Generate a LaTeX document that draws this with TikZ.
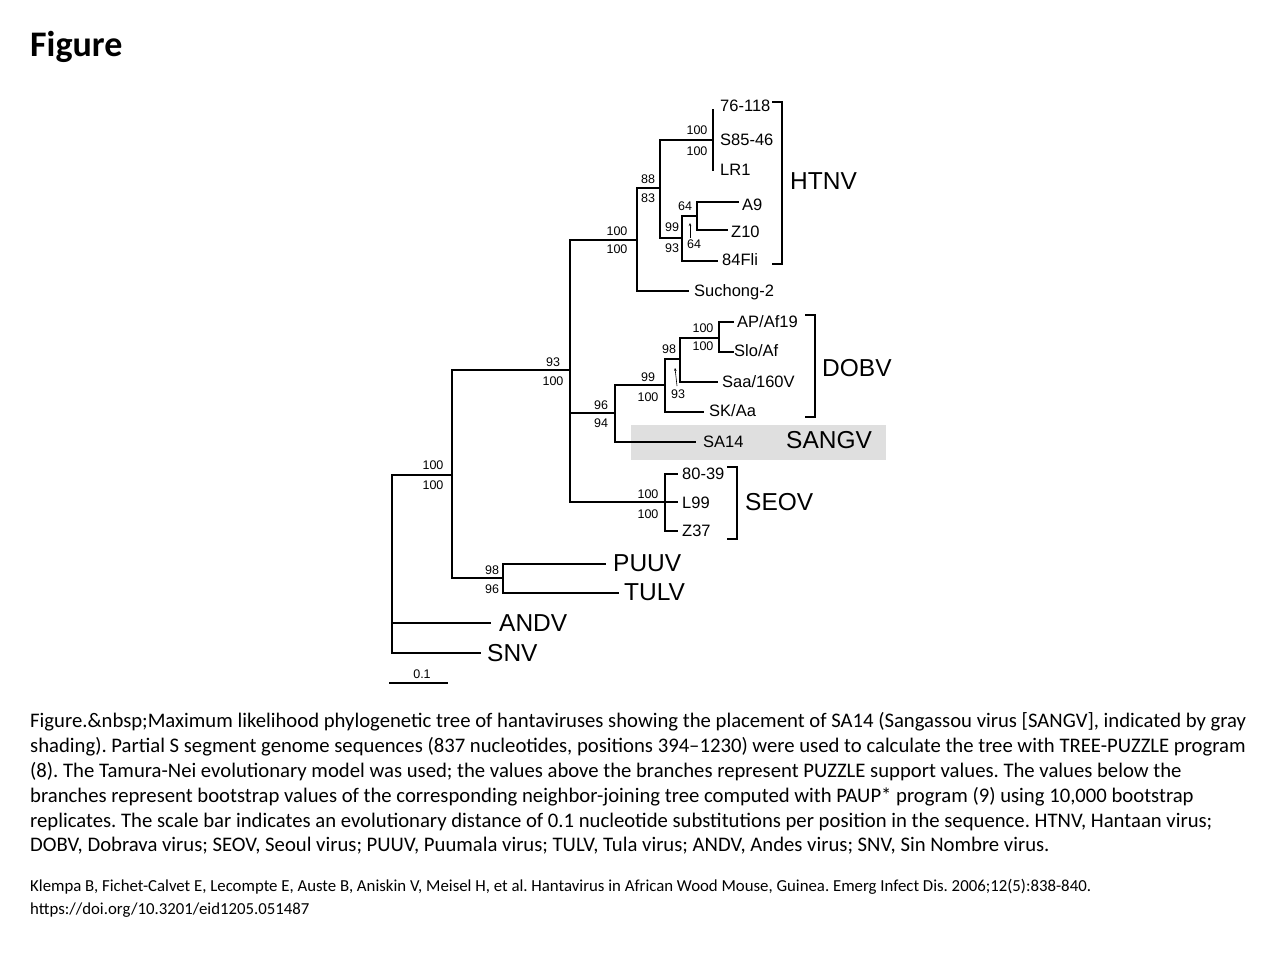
\documentclass[tikz,border=0pt]{standalone}
\usepackage{fontspec}
\usetikzlibrary{arrows.meta}
\setmainfont{Carlito}
\newfontfamily\arialf{Liberation Sans}
\frenchspacing
\begin{document}
\begin{tikzpicture}[x=1pt,y=-1pt,
  tr/.style={line width=1.5pt,line cap=rect},
  brk/.style={line width=2.6pt},
  leaf/.style={anchor=west,inner sep=0pt,font=\arialf\fontsize{16.5}{18}\selectfont},
  big/.style={anchor=west,inner sep=0pt,font=\arialf\fontsize{24.5}{26}\selectfont},
  supval/.style={inner sep=0pt,font=\arialf\fontsize{12.5}{13}\selectfont},
  captext/.style={anchor=west,inner sep=0pt,font=\fontsize{20.7}{24}\selectfont},
  citetext/.style={anchor=west,inner sep=0pt,font=\fontsize{16.8}{18}\selectfont}]
\useasboundingbox (0,0) rectangle (1280,960);
\fill[white] (0,0) rectangle (1280,960);
% shading
\fill[gray!25] (631,425) rectangle (886,460);
% title
\node[anchor=west,inner sep=0pt,font=\bfseries\fontsize{36}{38}\selectfont] (title) at (30,47) {Figure};
% coordinates
\coordinate (r0) at (392,475); \coordinate (rA) at (392,623); \coordinate (rS) at (392,653);
\coordinate (eA) at (490,623); \coordinate (eS) at (480,653);
\coordinate (n1) at (452,475); \coordinate (n1t) at (452,370); \coordinate (n1b) at (452,578);
\coordinate (pt) at (503,578); \coordinate (ptT) at (503,564); \coordinate (ptB) at (503,593);
\coordinate (ePU) at (605,564); \coordinate (eTU) at (618,593);
\coordinate (n2) at (570,370); \coordinate (n2t) at (570,240); \coordinate (n2b) at (570,502);
\coordinate (se) at (665,502); \coordinate (seT) at (665,474); \coordinate (seB) at (665,531);
\coordinate (n3a) at (570,413); \coordinate (n3) at (615,413); \coordinate (n3t) at (615,385); \coordinate (n3b) at (615,442);
\coordinate (eSA) at (695,442);
\coordinate (n4) at (665,385); \coordinate (n4t) at (665,359); \coordinate (n4b) at (665,412);
\coordinate (eSK) at (703,412);
\coordinate (n5) at (680,359); \coordinate (n5t) at (680,338); \coordinate (n5b) at (680,382);
\coordinate (eSaa) at (717,382);
\coordinate (n6) at (719,338); \coordinate (n6t) at (719,322); \coordinate (n6b) at (719,352);
\coordinate (h1) at (637,240); \coordinate (h1t) at (637,188); \coordinate (h1b) at (637,291);
\coordinate (eSu) at (688,291);
\coordinate (h2) at (660,188); \coordinate (h2t) at (660,140); \coordinate (h2b) at (660,238);
\coordinate (h3) at (713,140); \coordinate (h3t) at (713,110); \coordinate (h3b) at (713,170);
\coordinate (h4) at (682,238); \coordinate (h4t) at (682,216); \coordinate (h4b) at (682,261);
\coordinate (e84) at (717,261);
\coordinate (h5) at (697,216); \coordinate (h5t) at (697,202); \coordinate (h5b) at (697,230);
\coordinate (eA9) at (738,202); \coordinate (eZ10) at (727,230);
% tree
\draw[tr] (r0) -- (rS);
\draw[tr] (rA) -- (eA);
\draw[tr] (rS) -- (eS);
\draw[tr] (r0) -- (n1);
\draw[tr] (n1t) -- (n1b);
\draw[tr] (n1b) -- (pt);
\draw[tr] (ePU) -- (ptT) -- (ptB) -- (eTU);
\draw[tr] (n1t) -- (n2);
\draw[tr] (n2t) -- (n2b);
\draw[tr] (n2b) -- (se);
\draw[tr] (seT) -- (seB);
\draw[tr] (seT) -- ++(12,0);
\draw[tr] (se) -- ++(12,0);
\draw[tr] (seB) -- ++(12,0);
\draw[tr] (n3a) -- (n3);
\draw[tr] (n3t) -- (n3b) -- (eSA);
\draw[tr] (n3t) -- (n4);
\draw[tr] (n4t) -- (n4b) -- (eSK);
\draw[tr] (n4t) -- (n5);
\draw[tr] (n5t) -- (n5b) -- (eSaa);
\draw[tr] (n5t) -- (n6);
\draw[tr] (n6t) -- (n6b);
\draw[tr] (n6t) -- ++(14,0);
\draw[tr] (n6b) -- ++(14,0);
\draw[tr] (n2t) -- (h1);
\draw[tr] (h1t) -- (h1b) -- (eSu);
\draw[tr] (h1t) -- (h2);
\draw[tr] (h2t) -- (h2b);
\draw[tr] (h2t) -- (h3);
\draw[tr] (h3t) -- (h3b);
\draw[tr] (h2b) -- (h4);
\draw[tr] (h4t) -- (h4b) -- (e84);
\draw[tr] (h4t) -- (h5);
\draw[tr] (eA9) -- (h5t) -- (h5b) -- (eZ10);
% brackets
\draw[brk] (772,102) -- (782,102) -- (782,264) -- (772,264);
\draw[brk] (805,315) -- (815,315) -- (815,417) -- (805,417);
\draw[brk] (727,467) -- (737,467) -- (737,539) -- (727,539);
% scale bar
\draw[tr] (390,683) coordinate (sb1) -- (447,683) coordinate (sb2);
\node[supval] (sbl) at (422,674) {0.1};
% small arrows
\draw[line width=0.6pt,-{Stealth[length=3pt,width=2.5pt]}] (690,238) -- (690,223);
\draw[line width=0.6pt,-{Stealth[length=3pt,width=2.5pt]}] (677,386) -- (675,368);
% support values
\node[supval] (s1a) at (433,465) {100}; \node[supval] (s1b) at (433,485) {100};
\node[supval] (s2a) at (553,362) {93};  \node[supval] (s2b) at (553,381) {100};
\node[supval] (s3a) at (492,570) {98};  \node[supval] (s3b) at (492,589) {96};
\node[supval] (s4a) at (617,231) {100}; \node[supval] (s4b) at (617,249) {100};
\node[supval] (s5a) at (648,179) {88};  \node[supval] (s5b) at (648,198) {83};
\node[supval] (s6a) at (697,130) {100}; \node[supval] (s6b) at (697,151) {100};
\node[supval] (s7a) at (672,227) {99};  \node[supval] (s7b) at (672,248) {93};
\node[supval] (s8a) at (685,206) {64};  \node[supval] (s8b) at (694,244) {64};
\node[supval] (s9a) at (601,405) {96};  \node[supval] (s9b) at (601,423) {94};
\node[supval] (s10a) at (648,377) {99}; \node[supval] (s10b) at (648,397) {100};
\node[supval] (s11a) at (669,349) {98}; \node[supval] (s11b) at (678,394) {93};
\node[supval] (s12a) at (703,328) {100}; \node[supval] (s12b) at (703,346) {100};
\node[supval] (s13a) at (648,494) {100}; \node[supval] (s13b) at (648,514) {100};
% leaves
\node[leaf] (l1) at (720,106) {76-118};
\node[leaf] (l2) at (720,140) {S85-46};
\node[leaf] (l3) at (720,170) {LR1};
\node[leaf] (l4) at (742,205) {A9};
\node[leaf] (l5) at (731,232) {Z10};
\node[leaf] (l6) at (722,260) {84Fli};
\node[leaf] (l7) at (694,292) {Suchong-2};
\node[leaf] (l8) at (737,322) {AP/Af19};
\node[leaf] (l9) at (734,351) {Slo/Af};
\node[leaf] (l10) at (722,382) {Saa/160V};
\node[leaf] (l11) at (709,411) {SK/Aa};
\node[leaf] (l12) at (703,442) {SA14};
\node[leaf] (l13) at (682,474) {80-39};
\node[leaf] (l14) at (682,503) {L99};
\node[leaf] (l15) at (682,531) {Z37};
% group labels
\node[big] (g1) at (790,181) {HTNV};
\node[big] (g2) at (822,368) {DOBV};
\node[big] (g3) at (786,440) {SANGV};
\node[big] (g4) at (745,502) {SEOV};
\node[big] (g5) at (613,563) {PUUV};
\node[big] (g6) at (624,592) {TULV};
\node[big] (g7) at (499,623) {ANDV};
\node[big] (g8) at (487,653) {SNV};
% caption
\node[captext] (c1) at (30,722) {Figure.\&nbsp;Maximum likelihood phylogenetic tree of hantaviruses showing the placement of SA14 (Sangassou virus [SANGV], indicated by gray};
\node[captext] (c2) at (30,747) {shading). Partial S segment genome sequences (837 nucleotides, positions 394–1230) were used to calculate the tree with TREE-PUZZLE program};
\node[captext] (c3) at (30,772) {(8). The Tamura-Nei evolutionary model was used; the values above the branches represent PUZZLE support values. The values below the};
\node[captext] (c4) at (30,797) {branches represent bootstrap values of the corresponding neighbor-joining tree computed with PAUP* program (9) using 10,000 bootstrap};
\node[captext] (c5) at (30,822) {replicates. The scale bar indicates an evolutionary distance of 0.1 nucleotide substitutions per position in the sequence. HTNV, Hantaan virus;};
\node[captext] (c6) at (30,846) {DOBV, Dobrava virus; SEOV, Seoul virus; PUUV, Puumala virus; TULV, Tula virus; ANDV, Andes virus; SNV, Sin Nombre virus.};
\node[citetext] (k1) at (30,887) {Klempa B, Fichet-Calvet E, Lecompte E, Auste B, Aniskin V, Meisel H, et al. Hantavirus in African Wood Mouse, Guinea. Emerg Infect Dis. 2006;12(5):838-840.};
\node[citetext] (k2) at (30,910) {https://doi.org/10.3201/eid1205.051487};
\end{tikzpicture}
\end{document}
